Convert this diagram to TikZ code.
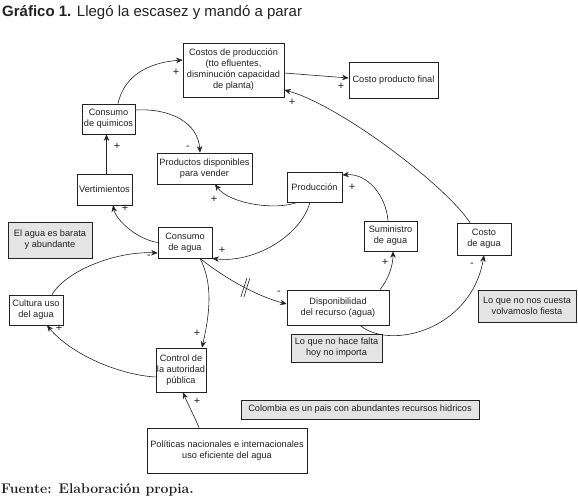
\documentclass[tikz,border=0pt]{standalone}
\usepackage{fontspec}
\newfontfamily\arialfont{Liberation Sans}
\usetikzlibrary{arrows.meta}
\definecolor{ink}{HTML}{222222}
\definecolor{gfill}{HTML}{E4E4E4}
\tikzset{
  box/.style={draw=ink, line width=0.75pt, fill=white, inner sep=1pt, align=center,
    font=\arialfont\fontsize{9.2}{11}\selectfont, text=ink},
  gbox/.style={box, fill=gfill},
  arr/.style={draw=ink, line width=0.6pt, -{Stealth[length=6.5pt,width=5.5pt]}},
  brkline/.style={draw=ink, line width=0.6pt},
  lbl/.style={inner sep=0pt, font=\arialfont\fontsize{11}{11}\selectfont, text=ink},
}
\begin{document}
\begin{tikzpicture}[x=1pt,y=-1pt]
\useasboundingbox (0,0) rectangle (578,496);
% title and source
\node[anchor=base west, inner sep=0pt, text=ink, font=\arialfont\fontsize{15}{15}\selectfont] (title) at (2,16) {\textbf{Gráfico 1.} Llegó la escasez y mandó a parar};
\node[anchor=base west, inner sep=0pt, text=ink, font=\bfseries\fontsize{14}{14}\selectfont] (fuente) at (1,493) {Fuente: Elaboración propia.};
% boxes
\node[box, minimum width=101pt, minimum height=54pt] (costos) at (233.5,70) {Costos de producción\\(tto efluentes,\\disminución capacidad\\de planta)};
\node[box, minimum width=89pt, minimum height=36pt] (final) at (393.5,80) {Costo producto final};
\node[box, minimum width=53pt, minimum height=30pt] (quim) at (108.5,119) {Consumo\\de quimicos};
\node[box, minimum width=95pt, minimum height=31pt] (prod) at (204.5,168.5) {Productos disponibles\\para vender};
\node[box, minimum width=55pt, minimum height=31pt] (vert) at (104.5,189.5) {Vertimientos};
\node[box, minimum width=55pt, minimum height=30pt] (produccion) at (314.5,187) {Producción};
\node[box, minimum width=53pt, minimum height=30pt] (sumin) at (390.5,236) {Suministro\\de agua};
\node[box, minimum width=54pt, minimum height=32pt] (costoagua) at (484,239) {Costo\\de agua};
\node[gbox, minimum width=84pt, minimum height=36pt] (barata) at (50,240) {El agua es barata\\y abundante};
\node[box, minimum width=54pt, minimum height=31pt] (consumo) at (185,242.5) {Consumo\\de agua};
\node[box, minimum width=54pt, minimum height=30pt] (cultura) at (36,310) {Cultura uso\\del agua};
\node[box, minimum width=102pt, minimum height=35pt] (dispon) at (338,307.5) {Disponibilidad\\del recurso (agua)};
\node[gbox, minimum width=98pt, minimum height=32pt] (fiesta) at (527,306) {Lo que no nos cuesta\\volvamoslo fiesta};
\node[gbox, minimum width=91pt, minimum height=28pt] (nofalta) at (336.5,348) {Lo que no hace falta\\hoy no importa};
\node[box, minimum width=50pt, minimum height=44pt, inner sep=0pt] (control) at (181,370) {Control de\\la autoridad\\pública};
\node[box, minimum width=160pt, minimum height=45pt, inner sep=0pt] (politicas) at (227,450.5) {Políticas nacionales e internacionales\\uso eficiente del agua};
\node[gbox, minimum width=238pt, minimum height=19pt] (colombia) at (360,409.5) {Colombia es un pais con abundantes recursos hidricos};
% connectors
\draw[arr] ([xshift=9.5pt]quim.north) .. controls +(7,-32) and +(-28,2) .. ([yshift=10pt]costos.west);
\draw[arr] ([yshift=9pt]quim.east) .. controls +(35,-2) and +(-2,-30) .. ([xshift=-4.5pt]prod.north);
\draw[arr] ([xshift=2pt]vert.north) -- ([xshift=-2pt]quim.south);
\draw[arr] (consumo.west) .. controls +(-20,-3) and +(3,15) .. ([xshift=8.5pt]vert.south);
\draw[arr] ([xshift=-17.5pt]produccion.south) .. controls +(-20,8) and +(15,20) .. ([xshift=10.5pt]prod.south);
\draw[arr] ([xshift=-4.5pt]produccion.south) .. controls +(-10,35) and +(40,5) .. (consumo.south east);
\draw[arr] ([xshift=15pt]consumo.south) .. controls +(25,20) and +(-30,-8) .. ([yshift=3.5pt]dispon.west) coordinate[pos=0.55] (brk);
\draw[brkline] ([shift={(1,-10)}]brk) -- ++(-6,19);
\draw[brkline] ([shift={(4,-10)}]brk) -- ++(-6,19);
\draw[arr] ([xshift=15pt]consumo.south) .. controls +(13,25) and +(8,-35) .. ([xshift=21pt]control.north);
\draw[arr] ([yshift=-7pt]control.west) .. controls +(-35,-2) and +(25,30) .. ([xshift=11pt]cultura.south);
\draw[arr] ([xshift=16pt]cultura.north) .. controls +(15,-25) and +(-40,-2) .. ([yshift=-10.5pt]consumo.west);
\draw[arr] ([xshift=-28pt]politicas.north) .. controls +(-5,-12) and +(5,12) .. ([xshift=2pt]control.south);
\draw[arr] ([xshift=-2.5pt]sumin.north) .. controls +(-2,-25) and +(25,-2) .. ([yshift=12pt]produccion.east);
\draw[arr] ([xshift=42pt]dispon.north) .. controls +(8,-10) and +(0,15) .. ([xshift=2.5pt]sumin.south);
\draw[arr] ([xshift=22pt]dispon.south) .. controls +(30,25) and +(-13,75) .. (costoagua.south);
\draw[arr] ([xshift=-14pt]costoagua.north) .. controls +(-25,-38) and +(55,15) .. ([yshift=-20pt]costos.east);
\draw[arr] ([yshift=-3pt]costos.east) -- ([yshift=2pt]final.west);
% polarity labels
\node[lbl] (p1) at (176,72) {+};
\node[lbl] (p2) at (188,148) {-};
\node[lbl] (p3) at (117,146) {+};
\node[lbl] (p4) at (125,208) {+};
\node[lbl] (p5) at (214,199) {+};
\node[lbl] (p6) at (222,250) {+};
\node[lbl] (p7) at (279,293) {-};
\node[lbl] (p8) at (197,333) {+};
\node[lbl] (p9) at (59,328) {+};
\node[lbl] (p10) at (149,257) {-};
\node[lbl] (p11) at (197,401) {+};
\node[lbl] (p12) at (352,187) {+};
\node[lbl] (p13) at (385,262) {+};
\node[lbl] (p14) at (472,265) {-};
\node[lbl] (p15) at (292,102) {+};
\node[lbl] (p16) at (341,86) {+};
\end{tikzpicture}
\end{document}
